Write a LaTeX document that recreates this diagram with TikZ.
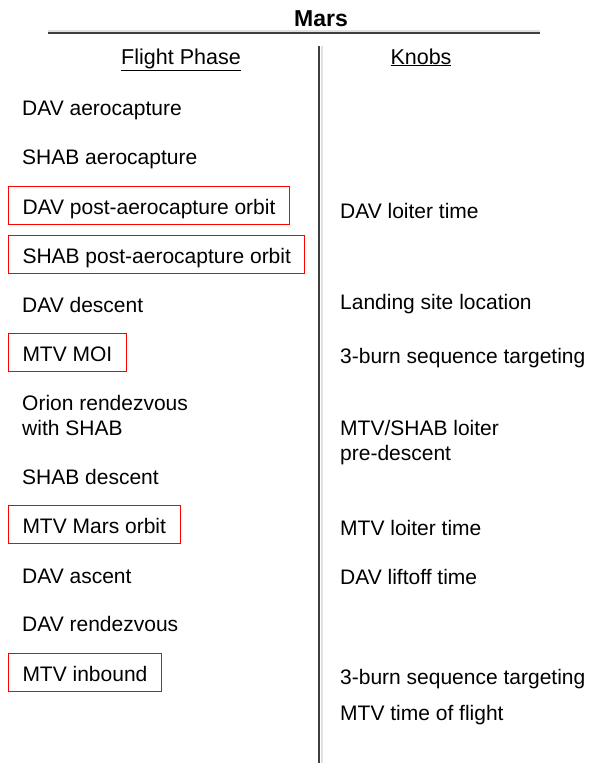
\documentclass[tikz,border=0pt]{standalone}
\usepackage{fontspec}
\setmainfont{Liberation Sans}
\begin{document}
\begin{tikzpicture}[x=1pt,y=-1pt,
  lbl/.style={anchor=base west,inner sep=0pt,font=\fontsize{21}{25}\selectfont},
  redbox/.style={lbl,draw=red,line width=1pt,inner xsep=14pt,inner ysep=0pt,text height=28pt,text depth=10.5pt},
  head/.style={anchor=base,inner sep=0pt,font=\fontsize{21.5}{25}\selectfont},
  rule/.style={draw=black!75,line width=1.6pt},
  shadow/.style={draw=black!12,line width=2pt}]
\useasboundingbox (0,0) rectangle (593,763);
% title
\node[anchor=base,inner sep=0pt,font=\fontsize{23}{27}\bfseries\selectfont] (title) at (321,26) {Mars};
% rules
\coordinate (hl) at (48,33);
\coordinate (hr) at (540,33);
\coordinate (vt) at (319,46);
\coordinate (vb) at (319,763);
\draw[shadow] ([yshift=2pt]hl) -- ([yshift=2pt]hr);
\draw[shadow] ([xshift=2.5pt]vt) -- ([xshift=2.5pt]vb);
\draw[rule] (hl) -- (hr);
\draw[rule,line width=2pt] (vt) -- (vb);
% headers
\node[head] (fp) at (181,64) {\underline{Flight Phase}};
\node[head] (kn) at (421,64) {\underline{Knobs}};
% left column
\node[lbl] (l1) at (22,115) {DAV aerocapture};
\node[lbl] (l2) at (22,164) {SHAB aerocapture};
\node[redbox] (l3) at (8,214) {DAV post-aerocapture orbit};
\node[redbox] (l4) at (8,263) {SHAB post-aerocapture orbit};
\node[lbl] (l5) at (22,312) {DAV descent};
\node[redbox] (l6) at (8,361) {MTV MOI};
\node[lbl] (l7a) at (22,410) {Orion rendezvous};
\node[lbl] (l7b) at (22,435) {with SHAB};
\node[lbl] (l8) at (22,484) {SHAB descent};
\node[redbox] (l9) at (8,533) {MTV Mars orbit};
\node[lbl] (l10) at (22,583) {DAV ascent};
\node[lbl] (l11) at (22,631) {DAV rendezvous};
\node[redbox] (l12) at (8,681) {MTV inbound};
% right column
\node[lbl] (r1) at (340,218) {DAV loiter time};
\node[lbl] (r2) at (340,309) {Landing site location};
\node[lbl] (r3) at (340,363) {3-burn sequence targeting};
\node[lbl] (r4a) at (340,435) {MTV/SHAB loiter};
\node[lbl] (r4b) at (340,460) {pre-descent};
\node[lbl] (r5) at (340,535) {MTV loiter time};
\node[lbl] (r6) at (340,584) {DAV liftoff time};
\node[lbl] (r7) at (340,684) {3-burn sequence targeting};
\node[lbl] (r8) at (340,720) {MTV time of flight};
\end{tikzpicture}
\end{document}
